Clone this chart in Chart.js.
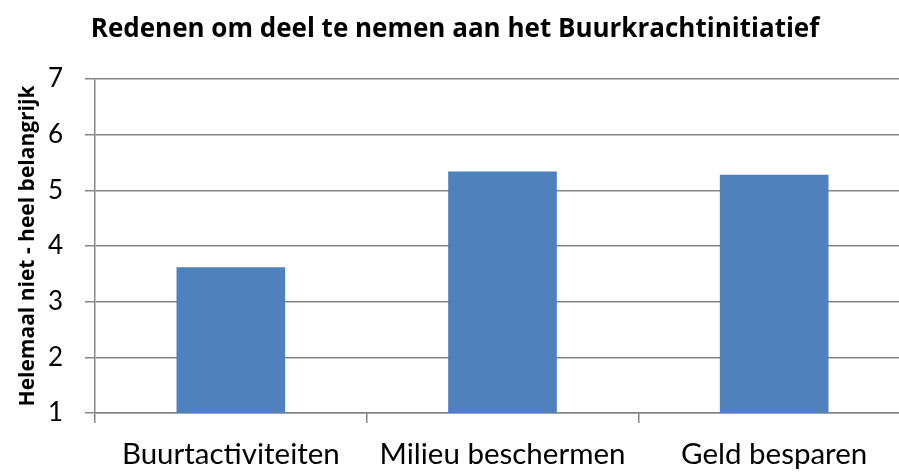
<!DOCTYPE html>
<html>
<head>
<meta charset="utf-8">
<script src="https://cdn.jsdelivr.net/npm/chart.js@4.4.0/dist/chart.umd.min.js"></script>
<style>
  html, body { margin: 0; padding: 0; background: #fff; overflow: hidden; }
  #wrap { width: 899px; height: 472px; overflow: hidden; }
  canvas { display: block; }
</style>
</head>
<body>
<div id="wrap"><canvas id="c" width="910" height="472"></canvas></div>
<script>
const categories = ['Buurtactiviteiten', 'Milieu beschermen', 'Geld besparen'];
const values = [3.62, 5.34, 5.28];
const yTicks = [1, 2, 3, 4, 5, 6, 7];
const chartTitle = 'Redenen om deel te nemen aan het Buurkrachtinitiatief';
const yTitle = 'Helemaal niet - heel belangrijk';

const FONT = 'Lato, "Open Sans", sans-serif';
const TFONT = '"Open Sans", Lato, sans-serif';
const GRID = '#868686';

new Chart(document.getElementById('c'), {
  type: 'bar',
  data: {
    labels: categories,
    datasets: [{
      data: values,
      backgroundColor: '#4F81BD',
      borderWidth: 0,
      categoryPercentage: 1,
      barPercentage: 0.4
    }]
  },
  options: {
    responsive: false,
    animation: false,
    layout: { padding: 0 },
    plugins: {
      legend: { display: false },
      tooltip: { enabled: false },
      title: {
        display: true,
        text: chartTitle,
        color: '#000',
        font: { family: TFONT, size: 26, weight: 'bold' },
        padding: { top: 14, bottom: 33.8 }
      }
    },
    scales: {
      x: {
        grid: { display: true, drawOnChartArea: false, drawTicks: true, tickLength: 10, color: GRID, lineWidth: 1.5, offset: true },
        border: { display: true, color: GRID, width: 1.5 },
        ticks: { color: '#000', font: { family: FONT, size: 29.5 }, padding: 14, maxRotation: 0, autoSkip: false },
        afterFit: (s) => { s.height = 59; }
      },
      y: {
        min: 1, max: 7,
        afterBuildTicks: (s) => { s.ticks = yTicks.map(v => ({ value: v })); },
        grid: { color: GRID, lineWidth: 1.5, tickLength: 10 },
        border: { display: true, color: GRID, width: 1.5 },
        ticks: { color: '#000', font: { family: FONT, size: 26 }, padding: 22 },
        title: {
          display: true,
          text: yTitle,
          color: '#000',
          font: { family: TFONT, size: 21, weight: 'bold' },
          padding: { top: 15, bottom: 0 }
        },
        afterFit: (s) => { s.width = 95; }
      }
    }
  }
});
</script>
</body>
</html>
